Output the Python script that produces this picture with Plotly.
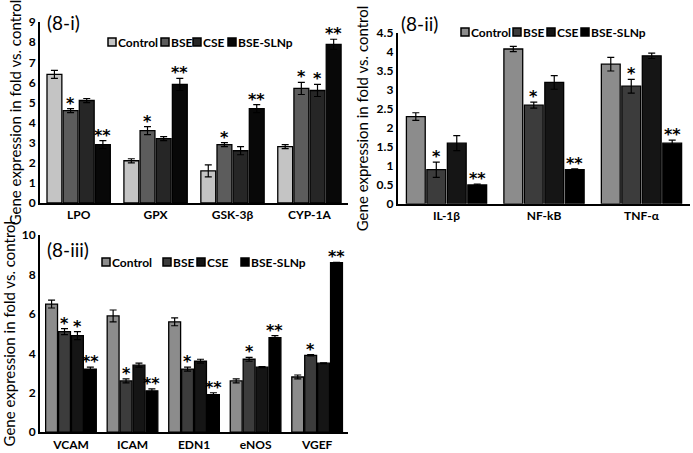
import plotly.graph_objects as go

series = ["Control", "BSE", "CSE", "BSE-SLNp"]

# Panel 8-i
cats1 = ["LPO", "GPX", "GSK-3β", "CYP-1A"]
vals1 = {
    "Control": [6.4, 2.1, 1.6, 2.8],
    "BSE": [4.6, 3.6, 2.9, 5.7],
    "CSE": [5.1, 3.2, 2.6, 5.6],
    "BSE-SLNp": [2.9, 5.9, 4.7, 7.9],
}
err1 = {
    "Control": [0.2, 0.1, 0.3, 0.1],
    "BSE": [0.1, 0.2, 0.1, 0.3],
    "CSE": [0.1, 0.1, 0.2, 0.3],
    "BSE-SLNp": [0.2, 0.3, 0.2, 0.25],
}
stars1 = {
    "Control": ["", "", "", ""],
    "BSE": ["*", "*", "*", "*"],
    "CSE": ["", "", "", "*"],
    "BSE-SLNp": ["**", "**", "**", "**"],
}

# Panel 8-ii
cats2 = ["IL-1β", "NF-kB", "TNF-α"]
vals2 = {
    "Control": [2.3, 4.08, 3.68],
    "BSE": [0.9, 2.6, 3.1],
    "CSE": [1.6, 3.2, 3.9],
    "BSE-SLNp": [0.5, 0.9, 1.6],
}
err2 = {
    "Control": [0.1, 0.07, 0.18],
    "BSE": [0.2, 0.08, 0.18],
    "CSE": [0.2, 0.18, 0.07],
    "BSE-SLNp": [0.02, 0.02, 0.08],
}
stars2 = {
    "Control": ["", "", ""],
    "BSE": ["*", "*", "*"],
    "CSE": ["", "", ""],
    "BSE-SLNp": ["**", "**", "**"],
}

# Panel 8-iii
cats3 = ["VCAM", "ICAM", "EDN1", "eNOS", "VGEF"]
vals3 = {
    "Control": [6.5, 5.9, 5.6, 2.6, 2.8],
    "BSE": [5.1, 2.6, 3.2, 3.7, 3.9],
    "CSE": [4.9, 3.4, 3.6, 3.3, 3.5],
    "BSE-SLNp": [3.2, 2.1, 1.9, 4.8, 8.6],
}
err3 = {
    "Control": [0.2, 0.3, 0.2, 0.1, 0.1],
    "BSE": [0.15, 0.1, 0.1, 0.1, 0.03],
    "CSE": [0.2, 0.1, 0.1, 0.03, 0.02],
    "BSE-SLNp": [0.1, 0.1, 0.1, 0.1, 0.02],
}
stars3 = {
    "Control": ["", "", "", "", ""],
    "BSE": ["*", "*", "*", "*", "*"],
    "CSE": ["*", "", "", "", ""],
    "BSE-SLNp": ["**", "**", "**", "**", "**"],
}

panel_titles = ["(8-i)", "(8-ii)", "(8-iii)"]

colors_i = ["#c4c4c4", "#5c5c5c", "#262626", "#080808"]
colors_other = ["#8c8c8c", "#3c3c3c", "#151515", "#000000"]

FONT = "Lato"
STAR_FONT = "DejaVu Sans"
BARGAP = 0.16
GROUPGAP = 0.08
W, H = 693, 453

fig = go.Figure()
annotations = []
shapes = []

# legend layout (pixel positions of each key square, and row centre)
legend_layout = [
    ([108, 161, 193, 228], 42),
    ([461, 513, 547, 581], 32),
    ([102, 163, 197, 241], 262),
]

panels = [
    ("x", "y", cats1, vals1, err1, stars1, colors_i),
    ("x2", "y2", cats2, vals2, err2, stars2, colors_other),
    ("x3", "y3", cats3, vals3, err3, stars3, colors_other),
]

nser = len(series)
slot = (1 - BARGAP) / nser
for p, (xa, ya, cats, vals, errs, stars, cols) in enumerate(panels):
    for k, s in enumerate(series):
        fig.add_trace(go.Bar(
            x=cats, y=vals[s], name=s, xaxis=xa, yaxis=ya, showlegend=False,
            marker=dict(color=cols[k], line=dict(color="black", width=1.3)),
            error_y=dict(type="data", array=errs[s], color="black", thickness=1.2, width=3.5),
        ))
        off = (k - (nser - 1) / 2) * slot
        for i, c in enumerate(cats):
            if stars[s][i]:
                annotations.append(dict(
                    x=i + off, y=vals[s][i] + errs[s][i], xref=xa, yref=ya,
                    text=stars[s][i], showarrow=False, yanchor="bottom", yshift=-6,
                    font=dict(size=16, color="black", family=STAR_FONT, weight="bold"),
                ))
    # legend keys + labels
    xs, yc = legend_layout[p]
    for k, s in enumerate(series):
        shapes.append(dict(
            type="rect", xref="paper", yref="paper",
            x0=xs[k] / W, x1=(xs[k] + 8) / W, y0=1 - (yc + 4) / H, y1=1 - (yc - 4) / H,
            fillcolor=cols[k], line=dict(color="black", width=1.5),
        ))
        annotations.append(dict(
            x=(xs[k] + 8) / W, y=1 - yc / H, xref="paper", yref="paper", text=s,
            showarrow=False, xanchor="left", yanchor="middle",
            font=dict(size=12, color="black", family=FONT, weight="bold"),
        ))

tickfont = dict(size=12, color="black", family=FONT, weight="bold")
ytitle = dict(text="Gene expression in fold vs. control", font=dict(size=15, color="black", family=FONT))

def xax(domain, anchor):
    return dict(domain=domain, anchor=anchor, showline=True, linecolor="black", linewidth=2,
                ticks="", tickfont=tickfont, showgrid=False, zeroline=False, automargin=False)

def yax(domain, anchor, rng, dtick):
    return dict(domain=domain, anchor=anchor, range=rng, dtick=dtick, showline=True,
                linecolor="black", linewidth=2, ticks="", tickfont=tickfont, showgrid=False,
                zeroline=False, title=ytitle, title_standoff=4, automargin=False)

title_pos = [(45, 9), (399, 10), (45, 236)]
for t, (tx, ty) in zip(panel_titles, title_pos):
    annotations.append(dict(
        x=tx / W, y=1 - ty / H, xref="paper", yref="paper", text=t, showarrow=False,
        xanchor="left", yanchor="top", font=dict(size=19, color="black", family=FONT),
    ))

fig.update_layout(
    width=W, height=H,
    margin=dict(l=0, r=0, t=0, b=0, autoexpand=False),
    paper_bgcolor="white", plot_bgcolor="white",
    barmode="group", bargap=BARGAP, bargroupgap=GROUPGAP,
    font=dict(family=FONT, color="black"),
    showlegend=False,
    xaxis=xax([0.058, 0.502], "y"),
    yaxis=yax([0.552, 0.951], "x", [0, 9], 1),
    xaxis2=xax([0.574, 0.996], "y2"),
    yaxis2=yax([0.550, 0.927], "x2", [0, 4.5], 0.5),
    xaxis3=xax([0.058, 0.502], "y3"),
    yaxis3=yax([0.046, 0.481], "x3", [0, 10], 2),
    annotations=annotations,
    shapes=shapes,
)

fig.write_html(
    "out.html",
    config={"displayModeBar": False},
    post_script="document.body.style.margin='0px';document.body.style.overflow='hidden';",
)
